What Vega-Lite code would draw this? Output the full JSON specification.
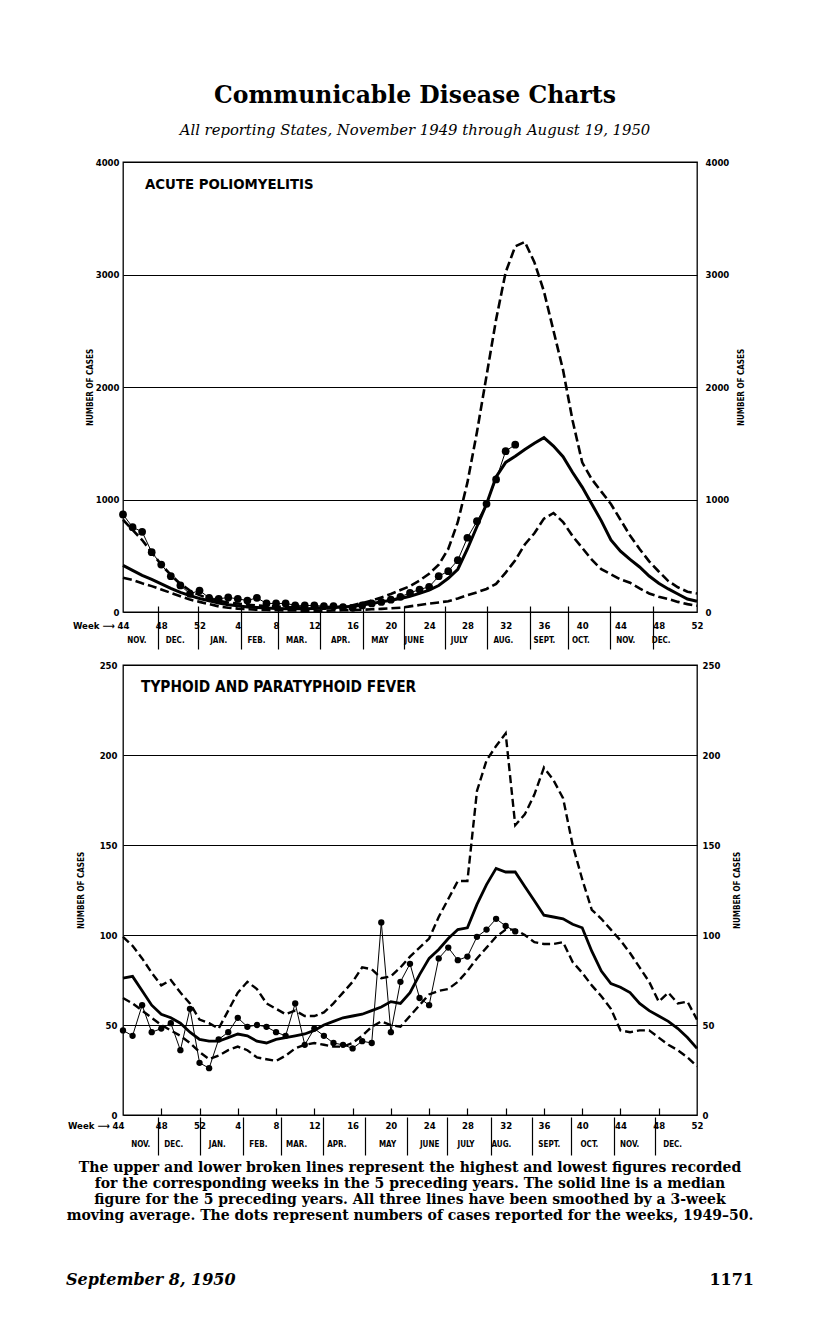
{
  "$schema": "https://vega.github.io/schema/vega-lite/v6.json",
  "background": "white",
  "padding": {"left": 64, "top": 83, "right": 10, "bottom": 10},
  "title": {
    "text": "Communicable Disease Charts",
    "subtitle": "All reporting States, November 1949 through August 19, 1950",
    "anchor": "middle", "dx": 5, "offset": 18.5,
    "font": "DejaVu Serif", "fontSize": 23.5, "fontWeight": "bold", "color": "black",
    "subtitleFont": "DejaVu Serif", "subtitleFontSize": 14.8, "subtitleFontStyle": "italic", "subtitleColor": "black", "subtitlePadding": 16
  },
  "datasets": {
    "weeks": [
      {"i": 0, "week": 44, "pm": 820, "pd": 415, "pn": 305, "po": 867, "tm": 99, "td": 76, "tn": 65, "to": 47},
      {"i": 1, "week": 45, "pm": 730, "pd": 370, "pn": 285, "po": 754, "tm": 94, "td": 77, "tn": 62, "to": 44},
      {"i": 2, "week": 46, "pm": 640, "pd": 325, "pn": 255, "po": 713, "tm": 87, "td": 69, "tn": 58, "to": 61},
      {"i": 3, "week": 47, "pm": 530, "pd": 290, "pn": 230, "po": 532, "tm": 79, "td": 61, "tn": 54, "to": 46},
      {"i": 4, "week": 48, "pm": 420, "pd": 250, "pn": 200, "po": 422, "tm": 72, "td": 56, "tn": 50, "to": 48},
      {"i": 5, "week": 49, "pm": 330, "pd": 210, "pn": 170, "po": 318, "tm": 75, "td": 54, "tn": 47, "to": 51},
      {"i": 6, "week": 50, "pm": 250, "pd": 175, "pn": 140, "po": 236, "tm": 68, "td": 51, "tn": 44, "to": 36},
      {"i": 7, "week": 51, "pm": 190, "pd": 145, "pn": 110, "po": 162, "tm": 62, "td": 46, "tn": 40, "to": 59},
      {"i": 8, "week": 52, "pm": 150, "pd": 120, "pn": 90, "po": 191, "tm": 53, "td": 42, "tn": 35, "to": 29},
      {"i": 9, "week": 1, "pm": 120, "pd": 100, "pn": 70, "po": 126, "tm": 51, "td": 41, "tn": 31, "to": 26},
      {"i": 10, "week": 2, "pm": 100, "pd": 80, "pn": 50, "po": 117, "tm": 48, "td": 41, "tn": 33, "to": 42},
      {"i": 11, "week": 3, "pm": 85, "pd": 65, "pn": 38, "po": 129, "tm": 58, "td": 43, "tn": 36, "to": 46},
      {"i": 12, "week": 4, "pm": 75, "pd": 55, "pn": 30, "po": 117, "tm": 68, "td": 45, "tn": 38, "to": 54},
      {"i": 13, "week": 5, "pm": 65, "pd": 45, "pn": 25, "po": 102, "tm": 74, "td": 44, "tn": 36, "to": 49},
      {"i": 14, "week": 6, "pm": 58, "pd": 40, "pn": 20, "po": 126, "tm": 70, "td": 41, "tn": 32, "to": 50},
      {"i": 15, "week": 7, "pm": 52, "pd": 35, "pn": 18, "po": 76, "tm": 62, "td": 40, "tn": 31, "to": 49},
      {"i": 16, "week": 8, "pm": 48, "pd": 32, "pn": 15, "po": 76, "tm": 59, "td": 42, "tn": 30, "to": 46},
      {"i": 17, "week": 9, "pm": 45, "pd": 30, "pn": 14, "po": 76, "tm": 56, "td": 43, "tn": 33, "to": 44},
      {"i": 18, "week": 10, "pm": 42, "pd": 30, "pn": 13, "po": 60, "tm": 58, "td": 44, "tn": 37, "to": 62},
      {"i": 19, "week": 11, "pm": 40, "pd": 30, "pn": 12, "po": 58, "tm": 55, "td": 45, "tn": 39, "to": 39},
      {"i": 20, "week": 12, "pm": 40, "pd": 32, "pn": 12, "po": 58, "tm": 55, "td": 47, "tn": 40, "to": 48},
      {"i": 21, "week": 13, "pm": 40, "pd": 35, "pn": 12, "po": 52, "tm": 57, "td": 50, "tn": 39, "to": 44},
      {"i": 22, "week": 14, "pm": 42, "pd": 40, "pn": 13, "po": 52, "tm": 62, "td": 52, "tn": 38, "to": 40},
      {"i": 23, "week": 15, "pm": 48, "pd": 45, "pn": 15, "po": 43, "tm": 68, "td": 54, "tn": 38, "to": 39},
      {"i": 24, "week": 16, "pm": 60, "pd": 52, "pn": 18, "po": 37, "tm": 74, "td": 55, "tn": 40, "to": 37},
      {"i": 25, "week": 17, "pm": 80, "pd": 62, "pn": 20, "po": 58, "tm": 82, "td": 56, "tn": 44, "to": 41},
      {"i": 26, "week": 18, "pm": 100, "pd": 75, "pn": 24, "po": 76, "tm": 81, "td": 58, "tn": 49, "to": 40},
      {"i": 27, "week": 19, "pm": 130, "pd": 90, "pn": 28, "po": 90, "tm": 76, "td": 60, "tn": 52, "to": 107},
      {"i": 28, "week": 20, "pm": 160, "pd": 105, "pn": 33, "po": 110, "tm": 77, "td": 63, "tn": 50, "to": 46},
      {"i": 29, "week": 21, "pm": 195, "pd": 120, "pn": 38, "po": 135, "tm": 82, "td": 62, "tn": 49, "to": 74},
      {"i": 30, "week": 22, "pm": 230, "pd": 140, "pn": 50, "po": 170, "tm": 88, "td": 68, "tn": 55, "to": 84},
      {"i": 31, "week": 23, "pm": 280, "pd": 165, "pn": 62, "po": 200, "tm": 93, "td": 78, "tn": 61, "to": 65},
      {"i": 32, "week": 24, "pm": 340, "pd": 195, "pn": 75, "po": 224, "tm": 98, "td": 87, "tn": 67, "to": 61},
      {"i": 33, "week": 25, "pm": 420, "pd": 235, "pn": 85, "po": 318, "tm": 110, "td": 92, "tn": 69, "to": 87},
      {"i": 34, "week": 26, "pm": 560, "pd": 300, "pn": 96, "po": 363, "tm": 120, "td": 98, "tn": 70, "to": 93},
      {"i": 35, "week": 27, "pm": 800, "pd": 380, "pn": 120, "po": 461, "tm": 130, "td": 103, "tn": 74, "to": 86},
      {"i": 36, "week": 28, "pm": 1150, "pd": 560, "pn": 150, "po": 660, "tm": 130, "td": 104, "tn": 80, "to": 88},
      {"i": 37, "week": 29, "pm": 1600, "pd": 760, "pn": 175, "po": 807, "tm": 180, "td": 117, "tn": 87, "to": 99},
      {"i": 38, "week": 30, "pm": 2100, "pd": 960, "pn": 205, "po": 962, "tm": 197, "td": 128, "tn": 93, "to": 103},
      {"i": 39, "week": 31, "pm": 2600, "pd": 1200, "pn": 250, "po": 1178, "tm": 205, "td": 137, "tn": 99, "to": 109},
      {"i": 40, "week": 32, "pm": 3020, "pd": 1330, "pn": 350, "po": 1430, "tm": 212, "td": 135, "tn": 103, "to": 105},
      {"i": 41, "week": 33, "pm": 3250, "pd": 1385, "pn": 460, "po": 1487, "tm": 161, "td": 135, "tn": 103, "to": 102},
      {"i": 42, "week": 34, "pm": 3290, "pd": 1445, "pn": 600, "po": null, "tm": 167, "td": 127, "tn": 100, "to": null},
      {"i": 43, "week": 35, "pm": 3110, "pd": 1500, "pn": 700, "po": null, "tm": 178, "td": 119, "tn": 96, "to": null},
      {"i": 44, "week": 36, "pm": 2850, "pd": 1550, "pn": 830, "po": null, "tm": 193, "td": 111, "tn": 95, "to": null},
      {"i": 45, "week": 37, "pm": 2500, "pd": 1475, "pn": 880, "po": null, "tm": 186, "td": 110, "tn": 95, "to": null},
      {"i": 46, "week": 38, "pm": 2150, "pd": 1380, "pn": 800, "po": null, "tm": 176, "td": 109, "tn": 96, "to": null},
      {"i": 47, "week": 39, "pm": 1700, "pd": 1240, "pn": 674, "po": null, "tm": 150, "td": 106, "tn": 85, "to": null},
      {"i": 48, "week": 40, "pm": 1330, "pd": 1110, "pn": 570, "po": null, "tm": 131, "td": 104, "tn": 79, "to": null},
      {"i": 49, "week": 41, "pm": 1180, "pd": 960, "pn": 465, "po": null, "tm": 114, "td": 91, "tn": 72, "to": null},
      {"i": 50, "week": 42, "pm": 1070, "pd": 810, "pn": 380, "po": null, "tm": 109, "td": 80, "tn": 66, "to": null},
      {"i": 51, "week": 43, "pm": 960, "pd": 640, "pn": 335, "po": null, "tm": 103, "td": 73, "tn": 59, "to": null},
      {"i": 52, "week": 44, "pm": 820, "pd": 540, "pn": 290, "po": null, "tm": 97, "td": 71, "tn": 47, "to": null},
      {"i": 53, "week": 45, "pm": 680, "pd": 467, "pn": 260, "po": null, "tm": 90, "td": 68, "tn": 46, "to": null},
      {"i": 54, "week": 46, "pm": 560, "pd": 400, "pn": 210, "po": null, "tm": 82, "td": 62, "tn": 47, "to": null},
      {"i": 55, "week": 47, "pm": 450, "pd": 320, "pn": 165, "po": null, "tm": 74, "td": 58, "tn": 47, "to": null},
      {"i": 56, "week": 48, "pm": 360, "pd": 255, "pn": 135, "po": null, "tm": 63, "td": 55, "tn": 43, "to": null},
      {"i": 57, "week": 49, "pm": 275, "pd": 205, "pn": 115, "po": null, "tm": 68, "td": 52, "tn": 39, "to": null},
      {"i": 58, "week": 50, "pm": 220, "pd": 160, "pn": 90, "po": null, "tm": 62, "td": 48, "tn": 36, "to": null},
      {"i": 59, "week": 51, "pm": 180, "pd": 115, "pn": 70, "po": null, "tm": 63, "td": 43, "tn": 32, "to": null},
      {"i": 60, "week": 52, "pm": 165, "pd": 95, "pn": 55, "po": null, "tm": 53, "td": 37, "tn": 27, "to": null}
    ],
    "notes": [
      {"row": 1, "part": "caption", "text": "The upper and lower broken lines represent the highest and lowest figures recorded"},
      {"row": 2, "part": "caption", "text": "for the corresponding weeks in the 5 preceding years.  The solid line is a median"},
      {"row": 3, "part": "caption", "text": "figure for the 5 preceding years.  All three lines have been smoothed by a 3-week"},
      {"row": 4, "part": "caption", "text": "moving average.  The dots represent numbers of cases reported for the weeks, 1949–50."},
      {"row": 8, "part": "date", "text": "September 8, 1950"},
      {"row": 8, "part": "page", "text": "1171"}
    ]
  },
  "vconcat": [
    {
      "data": {"name": "weeks"},
      "width": 574, "height": 450,
      "title": {"text": "ACUTE POLIOMYELITIS", "anchor": "start", "frame": "group", "orient": "top", "offset": -35, "dx": 22, "font": "DejaVu Sans Condensed, Liberation Sans Narrow, DejaVu Sans", "fontSize": 14.8, "fontWeight": "bold", "color": "black"},
      "layer": [
        {
          "mark": {"type": "line", "color": "black", "strokeWidth": 2.6, "strokeDash": [9, 4]},
          "encoding": {
            "x": {"field": "i", "type": "quantitative", "scale": {"domain": [0, 60], "nice": false, "zero": false},
              "axis": {"orient": "bottom", "values": [0, 4, 8, 12, 16, 20, 24, 28, 32, 36, 40, 44, 48, 52, 56, 60], "title": null, "domain": false, "ticks": false, "tickSize": 0, "grid": false, "labelPadding": 8, "labelFont": "DejaVu Sans Condensed, Liberation Sans Narrow, DejaVu Sans", "labelFontSize": 9.5, "labelFontWeight": "bold", "labelColor": "black", "labelFlush": false, "labelOverlap": false, "labelBound": false,
                "labelExpr": "datum.value == 0 ? 'Week ⟶ 44' : (datum.value <= 8 ? '' + (44 + datum.value) : '' + (datum.value - 8))",
                "labelAlign": {"condition": {"test": "datum.value == 0", "value": "right"}, "value": "center"},
                "labelOffset": {"condition": {"test": "datum.value == 0", "value": 6}, "value": 0}}},
            "y": {"field": "pm", "type": "quantitative", "scale": {"domain": [0, 4000], "nice": false, "zero": true},
              "axis": {"orient": "left", "values": [0, 1000, 2000, 3000, 4000], "format": "d", "grid": true, "gridColor": "black", "gridWidth": 1.1, "gridOpacity": 1, "domain": false, "ticks": false, "tickSize": 0, "labelPadding": 4, "labelFont": "DejaVu Sans Condensed, Liberation Sans Narrow, DejaVu Sans", "labelFontSize": 9.5, "labelFontWeight": "bold", "labelColor": "black", "title": "NUMBER OF CASES", "titleFont": "DejaVu Sans Condensed, Liberation Sans Narrow, DejaVu Sans", "titleFontSize": 8, "titleFontWeight": "bold", "titleColor": "black", "titlePadding": 1}}
          }
        },
        {
          "mark": {"type": "line", "color": "black", "strokeWidth": 3},
          "encoding": {
            "x": {"field": "i", "type": "quantitative",
              "axis": {"orient": "bottom", "values": [3.66, 7.88, 12.32, 16.23, 20.63, 25.06, 29.42, 33.61, 38.04, 42.51, 46.52, 50.89, 55.36], "title": null, "labels": false, "domain": false, "grid": false, "ticks": true, "tickSize": 43, "tickWidth": 1.2, "tickColor": "black", "offset": -6}},
            "y": {"field": "pd", "type": "quantitative",
              "axis": {"orient": "right", "values": [0, 1000, 2000, 3000, 4000], "format": "d", "grid": false, "domain": false, "ticks": false, "tickSize": 0, "labelPadding": 8, "labelFont": "DejaVu Sans Condensed, Liberation Sans Narrow, DejaVu Sans", "labelFontSize": 9.5, "labelFontWeight": "bold", "labelColor": "black", "title": "NUMBER OF CASES", "titleAngle": 270, "titleFont": "DejaVu Sans Condensed, Liberation Sans Narrow, DejaVu Sans", "titleFontSize": 8, "titleFontWeight": "bold", "titleColor": "black", "titlePadding": 17}}
          }
        },
        {
          "mark": {"type": "line", "color": "black", "strokeWidth": 2.6, "strokeDash": [9, 4]},
          "encoding": {
            "x": {"field": "i", "type": "quantitative",
              "axis": {"orient": "bottom", "values": [1.4, 5.4, 9.95, 13.9, 18.1, 22.7, 26.8, 30.4, 35.1, 39.7, 44.0, 47.8, 52.5, 56.2], "title": null, "domain": false, "ticks": false, "tickSize": 0, "grid": false, "labelPadding": 24, "labelFont": "DejaVu Sans Condensed, Liberation Sans Narrow, DejaVu Sans", "labelFontSize": 8, "labelFontWeight": "bold", "labelColor": "black", "labelFlush": false, "labelOverlap": false, "labelBound": false,
                "labelExpr": "['NOV.','DEC.','JAN.','FEB.','MAR.','APR.','MAY','JUNE','JULY','AUG.','SEPT.','OCT.','NOV.','DEC.'][indexof([1.4, 5.4, 9.95, 13.9, 18.1, 22.7, 26.8, 30.4, 35.1, 39.7, 44.0, 47.8, 52.5, 56.2], datum.value)]"}},
            "y": {"field": "pn", "type": "quantitative", "axis": null}
          }
        },
        {
          "mark": {"type": "line", "color": "black", "strokeWidth": 1},
          "encoding": {
            "x": {"field": "i", "type": "quantitative", "axis": null},
            "y": {"field": "po", "type": "quantitative", "axis": null}
          }
        },
        {
          "mark": {"type": "circle", "color": "black", "opacity": 1, "size": 60},
          "encoding": {
            "x": {"field": "i", "type": "quantitative", "axis": null},
            "y": {"field": "po", "type": "quantitative", "axis": null}
          }
        }
      ],
      "resolve": {"axis": {"x": "independent", "y": "independent"}}
    },
    {
      "data": {"name": "weeks"},
      "width": 574, "height": 450,
      "title": {"text": "TYPHOID AND PARATYPHOID FEVER", "anchor": "start", "frame": "group", "orient": "top", "offset": -35, "dx": 18, "font": "DejaVu Sans Condensed, Liberation Sans Narrow, DejaVu Sans", "fontSize": 15.3, "fontWeight": "bold", "color": "black"},
      "layer": [
        {
          "mark": {"type": "line", "color": "black", "strokeWidth": 2.4, "strokeDash": [8, 4]},
          "encoding": {
            "x": {"field": "i", "type": "quantitative", "scale": {"domain": [0, 60], "nice": false, "zero": false},
              "axis": {"orient": "bottom", "values": [0, 4, 8, 12, 16, 20, 24, 28, 32, 36, 40, 44, 48, 52, 56, 60], "title": null, "domain": false, "ticks": false, "tickSize": 0, "grid": false, "labelPadding": 5, "labelFont": "DejaVu Sans Condensed, Liberation Sans Narrow, DejaVu Sans", "labelFontSize": 9.5, "labelFontWeight": "bold", "labelColor": "black", "labelFlush": false, "labelOverlap": false, "labelBound": false,
                "labelExpr": "datum.value == 0 ? 'Week ⟶ 44' : (datum.value <= 8 ? '' + (44 + datum.value) : '' + (datum.value - 8))",
                "labelAlign": {"condition": {"test": "datum.value == 0", "value": "right"}, "value": "center"},
                "labelOffset": {"condition": {"test": "datum.value == 0", "value": 1}, "value": 0}}},
            "y": {"field": "tm", "type": "quantitative", "scale": {"domain": [0, 250], "nice": false, "zero": true},
              "axis": {"orient": "left", "values": [0, 50, 100, 150, 200, 250], "format": "d", "grid": true, "gridColor": "black", "gridWidth": 1.1, "gridOpacity": 1, "domain": false, "ticks": false, "tickSize": 0, "labelPadding": 6, "labelFont": "DejaVu Sans Condensed, Liberation Sans Narrow, DejaVu Sans", "labelFontSize": 9.5, "labelFontWeight": "bold", "labelColor": "black", "title": "NUMBER OF CASES", "titleFont": "DejaVu Sans Condensed, Liberation Sans Narrow, DejaVu Sans", "titleFontSize": 8, "titleFontWeight": "bold", "titleColor": "black", "titlePadding": 14}}
          }
        },
        {
          "mark": {"type": "line", "color": "black", "strokeWidth": 2.8},
          "encoding": {
            "x": {"field": "i", "type": "quantitative",
              "axis": {"orient": "bottom", "values": [4, 8, 12, 16, 20, 24, 28, 32, 36, 40, 44, 48, 52, 56], "title": null, "labels": false, "domain": false, "grid": false, "ticks": true, "tickSize": 7, "tickWidth": 1.2, "tickColor": "black", "offset": -7}},
            "y": {"field": "td", "type": "quantitative",
              "axis": {"orient": "right", "values": [0, 50, 100, 150, 200, 250], "format": "d", "grid": false, "domain": false, "ticks": false, "tickSize": 0, "labelPadding": 5, "labelFont": "DejaVu Sans Condensed, Liberation Sans Narrow, DejaVu Sans", "labelFontSize": 9.5, "labelFontWeight": "bold", "labelColor": "black", "title": "NUMBER OF CASES", "titleAngle": 270, "titleFont": "DejaVu Sans Condensed, Liberation Sans Narrow, DejaVu Sans", "titleFontSize": 8, "titleFontWeight": "bold", "titleColor": "black", "titlePadding": 22}}
          }
        },
        {
          "mark": {"type": "line", "color": "black", "strokeWidth": 2.4, "strokeDash": [8, 4]},
          "encoding": {
            "x": {"field": "i", "type": "quantitative",
              "axis": {"orient": "bottom", "values": [3.7, 8.1, 12.5, 16.5, 20.9, 25.3, 29.7, 33.9, 38.5, 42.8, 46.8, 51.3, 55.6], "title": null, "labels": false, "domain": false, "grid": false, "ticks": true, "tickSize": 38, "tickWidth": 1.2, "tickColor": "black", "offset": 2}},
            "y": {"field": "tn", "type": "quantitative", "axis": null}
          }
        },
        {
          "mark": {"type": "line", "color": "black", "strokeWidth": 1},
          "encoding": {
            "x": {"field": "i", "type": "quantitative",
              "axis": {"orient": "bottom", "values": [1.8, 5.25, 9.8, 14.1, 18.1, 22.3, 27.6, 32, 35.8, 39.5, 44.5, 48.7, 52.9, 57.4], "title": null, "domain": false, "ticks": false, "tickSize": 0, "grid": false, "labelPadding": 25, "labelFont": "DejaVu Sans Condensed, Liberation Sans Narrow, DejaVu Sans", "labelFontSize": 8, "labelFontWeight": "bold", "labelColor": "black", "labelFlush": false, "labelOverlap": false, "labelBound": false,
                "labelExpr": "['NOV.','DEC.','JAN.','FEB.','MAR.','APR.','MAY','JUNE','JULY','AUG.','SEPT.','OCT.','NOV.','DEC.'][indexof([1.8, 5.25, 9.8, 14.1, 18.1, 22.3, 27.6, 32, 35.8, 39.5, 44.5, 48.7, 52.9, 57.4], datum.value)]"}},
            "y": {"field": "to", "type": "quantitative", "axis": null}
          }
        },
        {
          "mark": {"type": "circle", "color": "black", "opacity": 1, "size": 40},
          "encoding": {
            "x": {"field": "i", "type": "quantitative", "axis": null},
            "y": {"field": "to", "type": "quantitative", "axis": null}
          }
        }
      ],
      "resolve": {"axis": {"x": "independent", "y": "independent"}}
    },
    {
      "data": {"name": "notes"},
      "width": 688, "height": 112,
      "view": {"stroke": null},
      "layer": [
        {
          "transform": [{"filter": "datum.part == 'caption'"}],
          "mark": {"type": "text", "font": "DejaVu Serif", "fontSize": 14, "fontWeight": "bold", "align": "center", "baseline": "middle", "color": "black"},
          "encoding": {
            "y": {"field": "row", "type": "quantitative", "scale": {"domain": [1, 8], "reverse": true, "nice": false, "zero": false}, "axis": null},
            "text": {"field": "text"}
          }
        },
        {
          "transform": [{"filter": "datum.part == 'date'"}],
          "mark": {"type": "text", "font": "DejaVu Serif", "fontSize": 16, "fontWeight": "bold", "fontStyle": "italic", "align": "left", "baseline": "middle", "color": "black"},
          "encoding": {
            "x": {"field": "part", "type": "nominal", "scale": {"type": "point", "domain": ["date", "page"], "padding": 0}, "axis": null},
            "y": {"field": "row", "type": "quantitative", "axis": null},
            "text": {"field": "text"}
          }
        },
        {
          "transform": [{"filter": "datum.part == 'page'"}],
          "mark": {"type": "text", "font": "DejaVu Serif", "fontSize": 16, "fontWeight": "bold", "align": "right", "baseline": "middle", "color": "black"},
          "encoding": {
            "x": {"field": "part", "type": "nominal", "axis": null},
            "y": {"field": "row", "type": "quantitative", "axis": null},
            "text": {"field": "text"}
          }
        }
      ]
    }
  ],
  "spacing": 53,
  "bounds": "flush",
  "center": true,
  "config": {
    "view": {"stroke": "black", "strokeWidth": 1.3},
    "axis": {"labelColor": "black", "titleColor": "black", "tickColor": "black"}
  }
}
